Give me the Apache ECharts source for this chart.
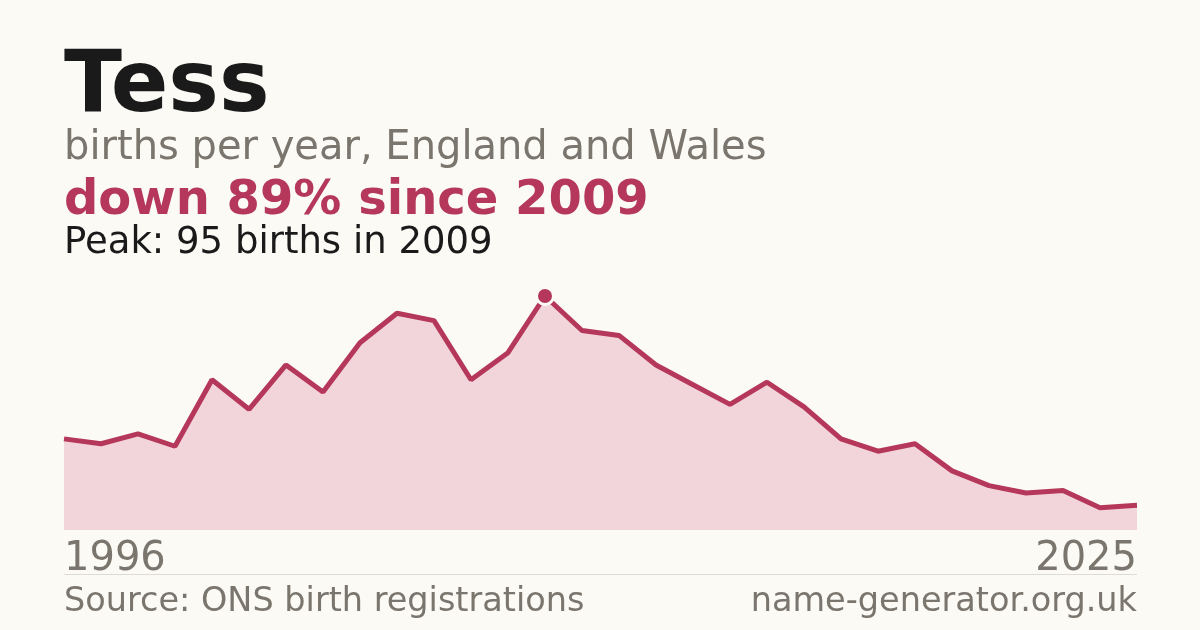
<!DOCTYPE html>
<html lang="en">
<head>
    <meta charset="UTF-8">
    <title>Tess</title>
    <script src="https://cdn.jsdelivr.net/npm/echarts@6/dist/echarts.min.js"></script>
    <style>
        html, body { margin: 0; padding: 0; background: #fbfaf5; }
        #chart { width: 1200px; height: 630px; }
    </style>
</head>
<body>
<div id="chart"></div>
<script type="text/javascript">
    // births per year
    var years = ['1996', '1997', '1998', '1999', '2000', '2001', '2002', '2003', '2004', '2005',
        '2006', '2007', '2008', '2009', '2010', '2011', '2012', '2013', '2014', '2015',
        '2016', '2017', '2018', '2019', '2020', '2021', '2022', '2023', '2024', '2025'];
    var births = [37, 35, 39, 34, 61, 49, 67, 56, 76, 88,
        85, 61, 72, 95, 81, 79, 67, 59, 51, 60,
        50, 37, 32, 35, 24, 18, 15, 16, 9, 10];
    var peakIndex = 13;

    var font = '"DejaVu Sans", sans-serif';
    var red = '#b5375a';
    var grey = '#7a756d';

    var chart = echarts.init(document.getElementById('chart'));

    var option = {
        backgroundColor: '#fbfaf5',
        animation: false,
        grid: { left: 64, right: 63, top: 296, bottom: 100 },
        xAxis: {
            type: 'category',
            data: years,
            boundaryGap: false,
            axisLine: { show: false },
            axisTick: { show: false },
            axisLabel: {
                interval: function (i) { return i === 0 || i === years.length - 1; },
                alignMinLabel: 'left',
                alignMaxLabel: 'right',
                color: grey,
                fontFamily: font,
                fontSize: 40,
                margin: 10
            }
        },
        yAxis: {
            type: 'value',
            min: 0,
            max: 95,
            show: false
        },
        series: [{
            type: 'line',
            data: births.map(function (v, i) {
                if (i !== peakIndex) return v;
                return {
                    value: v,
                    symbol: 'circle',
                    symbolSize: 17,
                    itemStyle: { color: red, borderColor: '#fbfaf5', borderWidth: 3 }
                };
            }),
            clip: false,
            showSymbol: true,
            symbol: 'none',
            lineStyle: { color: red, width: 5 },
            areaStyle: { color: '#f2d5da', opacity: 1 },
            z: 2
        }],
        graphic: [
            { type: 'text', left: 64, top: 46, style: { text: 'Tess', font: 'bold 85px ' + font, fill: '#1a1a1a' } },
            { type: 'text', left: 64, top: 129, style: { text: 'births per year, England and Wales', font: '40px ' + font, fill: grey } },
            { type: 'text', left: 64, top: 178, style: { text: 'down 89% since 2009', font: 'bold 48px ' + font, fill: red } },
            { type: 'text', left: 64, top: 225, style: { text: 'Peak: 95 births in 2009', font: '37px ' + font, fill: '#1a1a1a' } },
            { type: 'rect', shape: { x: 64, y: 574, width: 1073, height: 1 }, style: { fill: '#dedbd3' } },
            { type: 'text', left: 64, top: 585, style: { text: 'Source: ONS birth registrations', font: '33.5px ' + font, fill: grey } },
            { type: 'text', right: 63, top: 585, style: { text: 'name-generator.org.uk', font: '33.5px ' + font, fill: grey } }
        ]
    };

    chart.setOption(option);
</script>
</body>
</html>
